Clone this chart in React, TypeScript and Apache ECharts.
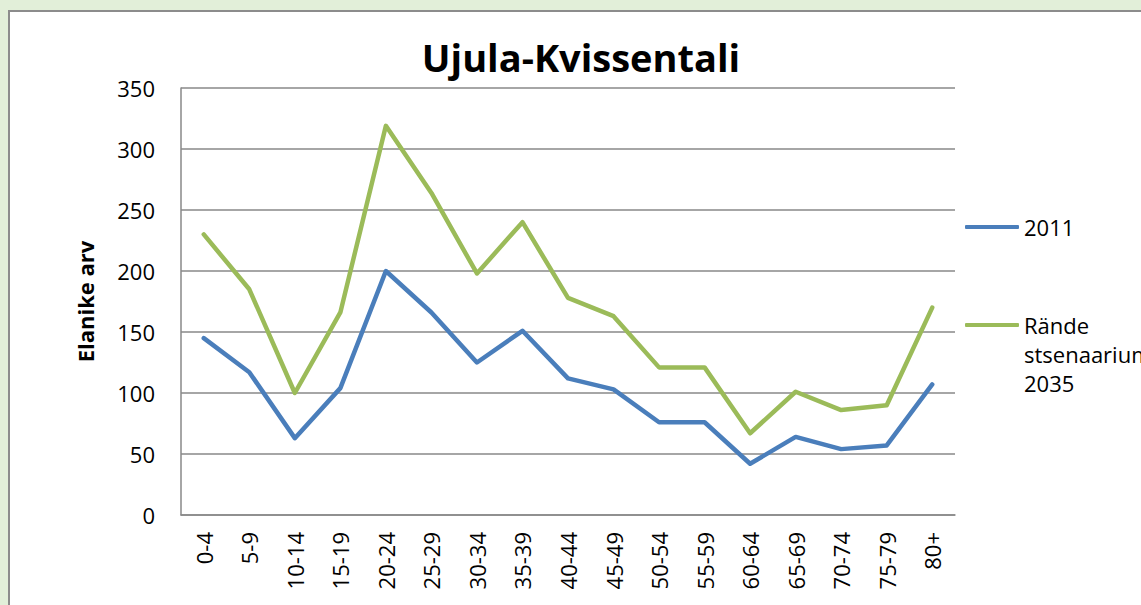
import React, { useEffect, useRef } from "react";
import * as echarts from "echarts";

const categories = ["0-4","5-9","10-14","15-19","20-24","25-29","30-34","35-39","40-44","45-49","50-54","55-59","60-64","65-69","70-74","75-79","80+"];
const series2011 = [145,117,63,104,200,166,125,151,112,103,76,76,42,64,54,57,107];
const series2035 = [230,185,100,166,319,264,198,240,178,163,121,121,67,101,86,90,170];
const yTicks = { min: 0, max: 350, interval: 50 };

const FONT = "'Open Sans', 'Noto Sans', sans-serif";

export default function App() {
  const ref = useRef<HTMLDivElement>(null);
  useEffect(() => {
    if (!ref.current) return;
    const chart = echarts.init(ref.current, null, { renderer: "svg" });
    chart.setOption({
      animation: false,
      textStyle: { fontFamily: FONT, color: "#000" },
      title: {
        text: "Ujula-Kvissentali",
        left: 576,
        top: 33,
        textAlign: "center",
        textStyle: { fontFamily: FONT, fontWeight: "bold", fontSize: 38, color: "#000" },
      },
      legend: [
        {
          data: ["2011"],
          orient: "vertical",
          left: 965,
          top: 212.5,
          padding: 0,
          itemWidth: 54,
          itemHeight: 4,
          icon: "roundRect",
          textStyle: { fontFamily: FONT, fontSize: 22, color: "#000", lineHeight: 29 },
        },
        {
          data: ["Rände stsenaarium 2035"],
          orient: "vertical",
          left: 965,
          top: 252.5,
          padding: 0,
          itemWidth: 54,
          itemHeight: 4,
          icon: "roundRect",
          formatter: (n: string) => "\n\n" + n.replace(/ /g, "\n"),
          textStyle: { fontFamily: FONT, fontSize: 22, color: "#000", lineHeight: 29 },
        },
      ],
      grid: { left: 181, right: 186, top: 88, bottom: 90 },
      xAxis: {
        type: "category",
        data: categories,
        boundaryGap: true,
        axisLine: { show: true, lineStyle: { color: "#898989", width: 1.5 } },
        axisTick: { show: false },
        axisLabel: { interval: 0, rotate: 90, margin: 17, fontSize: 22, color: "#000", fontFamily: FONT },
      },
      yAxis: {
        type: "value",
        min: yTicks.min,
        max: yTicks.max,
        interval: yTicks.interval,
        name: "Elanike arv",
        nameLocation: "middle",
        nameRotate: 90,
        nameGap: 85,
        nameTextStyle: { fontFamily: FONT, fontWeight: "bold", fontSize: 22, color: "#000" },
        axisLine: { show: true, lineStyle: { color: "#898989", width: 1.5 } },
        axisTick: { show: false },
        axisLabel: { margin: 26, fontSize: 22, color: "#000", fontFamily: FONT },
        splitLine: { show: true, lineStyle: { color: "#898989", width: 1.5 } },
      },
      series: [
        {
          name: "2011",
          type: "line",
          data: series2011,
          symbol: "none",
          itemStyle: { color: "#4a7ebb" },
          lineStyle: { color: "#4a7ebb", width: 4.5, cap: "round", join: "round" },
        },
        {
          name: "Rände stsenaarium 2035",
          type: "line",
          data: series2035,
          symbol: "none",
          itemStyle: { color: "#9bbb59" },
          lineStyle: { color: "#9bbb59", width: 4.5, cap: "round", join: "round" },
        },
      ],
    });
    return () => chart.dispose();
  }, []);

  return (
    <div style={{ position: "fixed", left: 0, top: 0, width: 1141, height: 605, background: "#e2efd9", overflow: "hidden" }}>
      <div style={{ position: "absolute", left: 8, top: 10, width: 1300, height: 800, background: "#fff", borderLeft: "2px solid #8c8c8c", borderTop: "2px solid #8c8c8c" }} />
      <div ref={ref} style={{ position: "absolute", left: 0, top: 0, width: 1141, height: 605 }} />
    </div>
  );
}
